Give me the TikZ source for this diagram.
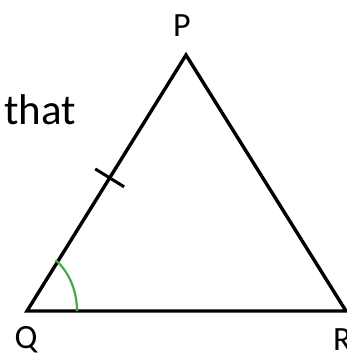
\documentclass[tikz,border=0pt]{standalone}
\usepackage{fontspec}
\setmainfont{Carlito}
\usetikzlibrary{calc}
\definecolor{anggreen}{RGB}{70,170,70}
\begin{document}
\begin{tikzpicture}[x=1pt,y=-1pt,
  side/.style={line width=3.4pt,line join=miter},
  lbl/.style={font=\fontsize{34}{34}\selectfont,inner sep=0pt},
  tick/.style={line width=3pt},
  angarc/.style={anggreen,line width=2.2pt}]
\useasboundingbox (0,0) rectangle (346,359);
\coordinate (P) at (186,55);
\coordinate (Q) at (27,311);
\coordinate (R) at (346,311);
\draw[side] (P) -- (Q) -- (R) -- cycle;
% tick mark on PQ
\coordinate (T) at ($(Q)!0.52!(P)$);
\draw[tick] ($(T)!17pt!90:(P)$) -- ($(T)!17pt!-90:(P)$);
% angle arc at Q
\draw[angarc] ($(Q)+(50,0)$) arc[start angle=0,end angle=-55,x radius=50,y radius=62];
\node[lbl] (pl) at (182,26) {P};
\node[lbl] (ql) at (26,340) {Q};
\node[lbl,anchor=north west] (rl) at (333,328) {R};
\node[font=\fontsize{43}{43}\selectfont,inner sep=0pt,anchor=base west] (that) at (4,124) {that};
\end{tikzpicture}
\end{document}
